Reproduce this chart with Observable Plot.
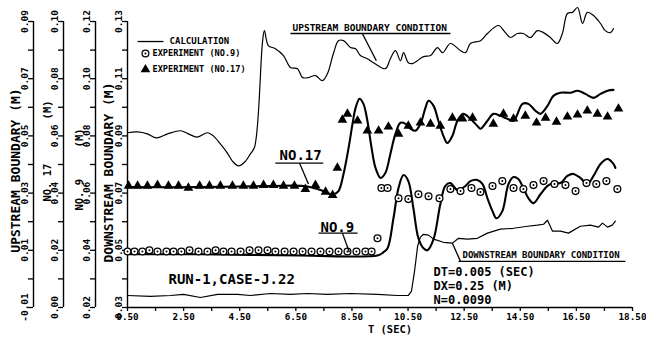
<!DOCTYPE html>
<html><head><meta charset="utf-8">
<script src="https://cdn.jsdelivr.net/npm/d3@7"></script>
<script src="https://cdn.jsdelivr.net/npm/@observablehq/plot@0.6"></script>
<style>
body{margin:0;background:#fff}
svg text{white-space:pre}
</style>
</head><body><div id="chart"></div>
<script>
// ---- data (T in seconds, depth in metres, each series in its own axis units) ----
const upT = [0.50,0.86,1.21,1.53,1.93,2.39,2.67,2.99,3.35,3.56,3.81,4.06,4.24,4.46,4.71,4.88,5.03,5.31,5.38,5.52,5.77,6.06,6.31,6.56,6.74,6.95,7.20,7.45,7.63,7.84,8.02,8.20,8.45,8.63,8.80,9.05,9.27,9.69,9.87,10.05,10.23,10.34,10.51,10.66,11.05,11.30,11.55,11.73,12.01,12.37,12.55,12.72,13.08,13.33,13.72,13.97,14.15,14.40,14.61,14.86,15.11,15.33,15.57,15.82,16.00,16.18,16.36,16.54,16.72,16.89,17.11,17.36,17.53,17.71,17.82];
const upH = [0.0511,0.0514,0.0507,0.0493,0.0507,0.0518,0.0507,0.0496,0.0511,0.0500,0.0472,0.0440,0.0412,0.0395,0.0412,0.0437,0.0461,0.0826,0.0868,0.0816,0.0805,0.0781,0.0739,0.0735,0.0704,0.0704,0.0711,0.0693,0.0718,0.0788,0.0833,0.0833,0.0809,0.0805,0.0781,0.0770,0.0756,0.0735,0.0770,0.0798,0.0763,0.0791,0.0756,0.0753,0.0777,0.0781,0.0809,0.0791,0.0823,0.0798,0.0791,0.0823,0.0833,0.0858,0.0886,0.0861,0.0844,0.0858,0.0858,0.0844,0.0868,0.0861,0.0844,0.0823,0.0858,0.0928,0.0932,0.0949,0.0893,0.0932,0.0921,0.0893,0.0868,0.0861,0.0875];

const downT = [0.50,1.32,2.03,2.50,3.10,3.71,4.42,4.88,5.60,6.31,6.91,7.63,8.45,9.41,10.12,10.51,10.62,10.73,10.84,10.94,11.05,11.23,11.41,11.76,12.08,12.30,12.62,12.97,13.33,13.79,14.26,14.76,15.11,15.33,15.47,15.65,15.93,16.22,16.64,17.00,17.29,17.43,17.61,17.78,17.89];
const downH = [0.0342,0.0339,0.0342,0.0346,0.0335,0.0346,0.0346,0.0342,0.0349,0.0346,0.0349,0.0346,0.0349,0.0346,0.0342,0.0342,0.0356,0.0426,0.0514,0.0546,0.0556,0.0553,0.0539,0.0528,0.0525,0.0542,0.0539,0.0542,0.0560,0.0574,0.0577,0.0584,0.0588,0.0591,0.0605,0.0567,0.0567,0.0560,0.0584,0.0588,0.0581,0.0595,0.0581,0.0588,0.0602];

const calc9T = [0.50,3.10,6.67,9.41,9.62,9.77,9.98,10.16,10.34,10.51,10.69,10.87,11.05,11.19,11.41,11.65,11.83,12.01,12.26,12.55,12.72,12.97,13.15,13.33,13.51,13.65,13.86,14.08,14.26,14.43,14.61,14.79,14.97,15.22,15.47,15.68,15.93,16.18,16.39,16.64,16.89,17.11,17.36,17.61,17.82,17.89];
const calc9H = [0.0386,0.0386,0.0382,0.0382,0.0393,0.0407,0.0512,0.0618,0.0663,0.0642,0.0547,0.0442,0.0407,0.0400,0.0439,0.0561,0.0625,0.0635,0.0611,0.0625,0.0642,0.0646,0.0632,0.0582,0.0537,0.0512,0.0537,0.0632,0.0656,0.0649,0.0618,0.0582,0.0565,0.0596,0.0625,0.0635,0.0635,0.0660,0.0667,0.0653,0.0632,0.0660,0.0702,0.0719,0.0702,0.0688];

const exp9T = [0.50,0.75,1.03,1.28,1.57,1.89,2.14,2.42,2.71,3.03,3.35,3.64,3.92,4.21,4.53,4.85,5.17,5.49,5.77,6.10,6.42,6.74,7.06,7.38,7.70,8.02,8.34,8.66,8.98,9.20,9.41,9.55,9.77,10.16,10.51,10.87,11.23,11.62,12.01,12.37,12.76,13.08,13.51,13.86,14.26,14.61,14.97,15.33,15.72,16.11,16.47,16.86,17.21,17.57,17.96];
const exp9H = [0.0396,0.0396,0.0396,0.0400,0.0396,0.0396,0.0396,0.0396,0.0400,0.0396,0.0396,0.0400,0.0396,0.0396,0.0396,0.0400,0.0400,0.0400,0.0396,0.0396,0.0396,0.0396,0.0396,0.0396,0.0396,0.0396,0.0396,0.0396,0.0396,0.0396,0.0442,0.0618,0.0618,0.0582,0.0579,0.0596,0.0589,0.0582,0.0614,0.0607,0.0618,0.0604,0.0625,0.0642,0.0618,0.0614,0.0628,0.0642,0.0632,0.0628,0.0607,0.0635,0.0632,0.0642,0.0614];

const calc17T = [0.50,3.10,5.60,6.77,7.13,7.38,7.63,7.84,8.02,8.20,8.38,8.52,8.63,8.77,8.91,9.05,9.20,9.34,9.52,9.69,9.87,10.05,10.23,10.41,10.59,10.76,10.94,11.12,11.23,11.41,11.58,11.76,11.90,12.08,12.26,12.47,12.72,12.97,13.08,13.33,13.54,13.79,14.04,14.26,14.58,14.79,15.04,15.22,15.47,15.68,15.93,16.29,16.54,16.82,17.11,17.36,17.61,17.82];
const calc17H = [0.0421,0.0421,0.0425,0.0425,0.0418,0.0411,0.0400,0.0396,0.0407,0.0467,0.0558,0.0642,0.0698,0.0730,0.0712,0.0653,0.0558,0.0488,0.0453,0.0470,0.0537,0.0607,0.0646,0.0642,0.0625,0.0618,0.0642,0.0698,0.0723,0.0705,0.0653,0.0600,0.0575,0.0600,0.0653,0.0677,0.0660,0.0635,0.0625,0.0653,0.0677,0.0670,0.0660,0.0653,0.0712,0.0712,0.0688,0.0677,0.0705,0.0740,0.0751,0.0751,0.0758,0.0747,0.0733,0.0747,0.0758,0.0761];

const exp17T = [0.54,0.86,1.21,1.57,1.96,2.32,2.67,3.07,3.42,3.81,4.24,4.63,4.99,5.35,5.70,6.06,6.45,6.84,7.20,7.56,7.81,7.98,8.16,8.34,8.70,9.05,9.45,9.80,10.16,10.51,10.94,11.30,11.65,12.08,12.44,12.80,13.54,13.90,14.26,14.68,15.08,15.40,15.79,16.18,16.54,16.89,17.25,17.61,18.00];
const exp17H = [0.0425,0.0425,0.0425,0.0428,0.0425,0.0425,0.0418,0.0425,0.0425,0.0425,0.0425,0.0425,0.0425,0.0428,0.0428,0.0425,0.0425,0.0414,0.0428,0.0404,0.0393,0.0488,0.0656,0.0677,0.0653,0.0618,0.0618,0.0632,0.0607,0.0635,0.0646,0.0642,0.0635,0.0663,0.0660,0.0663,0.0642,0.0677,0.0660,0.0670,0.0646,0.0663,0.0649,0.0667,0.0674,0.0688,0.0677,0.0667,0.0695];

// axis definitions: offset that maps each series' units onto the downstream axis
const axes = [
  {name: "UPSTREAM BOUNDARY (M)", off: 0.04, size: 13},
  {name: "NO. 17       (M)", off: 0.03, size: 10.5},
  {name: "NO. 9     (M)", off: 0.01, size: 10.5},
  {name: "DOWNSTREAM BOUNDARY (M)", off: 0.00, size: 13}
];
const xTicks = d3.range(0, 19).map(i => 0.5 + i);
const yTicks = d3.range(3, 14).map(i => i / 100);

// annotations (T, downstream-axis value)
const notes = [
  {t: 6.38, y: 0.1268, text: "UPSTREAM BOUNDARY CONDITION", size: 9.5, anchor: "start", line: "bottom"},
  {t: 6.67, y: 0.0830, text: "NO.17", size: 14, anchor: "middle", line: "middle"},
  {t: 7.98, y: 0.0581, text: "NO.9", size: 14, anchor: "middle", line: "middle"},
  {t: 12.44, y: 0.0474, text: "DOWNSTREAM BOUNDARY CONDITION", size: 9, anchor: "start", line: "bottom"},
  {t: 1.96, y: 0.0398, text: "RUN-1,CASE-J.22", size: 14, anchor: "start", line: "middle"},
  {t: 11.41, y: 0.0424, text: "DT=0.005 (SEC)", size: 12, anchor: "start", line: "middle"},
  {t: 11.41, y: 0.0375, text: "DX=0.25 (M)", size: 12, anchor: "start", line: "middle"},
  {t: 11.41, y: 0.0326, text: "N=0.0090", size: 12, anchor: "start", line: "middle"},
  {t: 2.00, y: 0.1230, text: "CALCULATION", size: 9, anchor: "start", line: "middle"},
  {t: 1.39, y: 0.1188, text: "EXPERIMENT (NO.9)", size: 8.6, anchor: "start", line: "middle"},
  {t: 1.39, y: 0.1132, text: "EXPERIMENT (NO.17)", size: 8.6, anchor: "start", line: "middle"}
];
const leaders = [
  [6.31, 0.1258, 12.01, 0.1258], [8.87, 0.1258, 9.37, 0.1163],
  [5.77, 0.0805, 7.48, 0.0805], [6.63, 0.0805, 6.95, 0.0732],
  [7.31, 0.0560, 8.70, 0.0560], [8.16, 0.0560, 8.41, 0.0493],
  [12.30, 0.0461, 18.25, 0.0461], [12.08, 0.0525, 12.37, 0.0461],
  [0.86, 0.1230, 1.78, 0.1230]
];
const legendDots = [{t: 1.14, y: 0.1188, kind: "circle"}, {t: 1.14, y: 0.1132, kind: "triangle"}];

const rows = (ts, hs, off) => ts.map((t, i) => ({t, y: hs[i] + off}));
const up = rows(upT, upH, 0.04), down = rows(downT, downH, 0);
const c9 = rows(calc9T, calc9H, 0.01), e9 = rows(exp9T, exp9H, 0.01);
const c17 = rows(calc17T, calc17H, 0.03), e17 = rows(exp17T, exp17H, 0.03);

const FONT = "'DejaVu Sans Mono', monospace";
const axisDx = [-94, -64, -32, 0];
const titleDx = [-112, -79.5, -48, -19];
const titleDy = [6, -13.5, 5, 8];

const marks = [];
axes.forEach((a, i) => {
  marks.push(Plot.ruleX([0.5], {dx: axisDx[i], strokeWidth: 1.4}));
  marks.push(Plot.axisY(yTicks, {anchor: "left", dx: axisDx[i], tickSize: 5, tickRotate: -90, tickPadding: 1,
    tickFormat: d => Math.round(d * 100) % 2 === 1 ? (d - a.off).toFixed(2) : "",
    fontSize: 9.5, fontWeight: "bold", label: null, strokeWidth: 1.3}));
  marks.push(Plot.text([a.name], {frameAnchor: "left", dx: titleDx[i], dy: titleDy[i], rotate: -90,
    textAnchor: "middle", fontSize: a.size, fontWeight: "bold"}));
});
const c9Legend = legendDots.filter(d => d.kind === "circle");
const t17Legend = legendDots.filter(d => d.kind === "triangle");
marks.push(
  Plot.ruleY([0.03], {strokeWidth: 1.4}),
  Plot.axisX(xTicks, {anchor: "bottom", tickSize: 4, tickPadding: 2,
    tickFormat: d => Math.round(d - 0.5) % 2 === 0 ? d.toFixed(2) : "",
    fontSize: 9.3, fontWeight: "bold", label: null, strokeWidth: 1.3}),
  Plot.text(["T (SEC)"], {frameAnchor: "bottom", dx: 10, dy: 25, fontSize: 10.5, fontWeight: "bold"}),
  Plot.line(up, {x: "t", y: "y", stroke: "black", strokeWidth: 1.2, curve: "catmull-rom"}),
  Plot.line(down, {x: "t", y: "y", stroke: "black", strokeWidth: 1.2, curve: "linear"}),
  Plot.line(c9, {x: "t", y: "y", stroke: "black", strokeWidth: 2.1, curve: "catmull-rom"}),
  Plot.line(c17, {x: "t", y: "y", stroke: "black", strokeWidth: 2.1, curve: "catmull-rom"}),
  Plot.dot(e9, {x: "t", y: "y", r: 3.4, stroke: "black", strokeWidth: 1.3, fill: "white"}),
  Plot.dot(e9, {x: "t", y: "y", r: 1, fill: "black"}),
  Plot.dot(e17, {x: "t", y: "y", symbol: "triangle", r: 3.6, fill: "black"}),
  Plot.link(leaders, {x1: d => d[0], y1: d => d[1], x2: d => d[2], y2: d => d[3], stroke: "black", strokeWidth: 1.3}),
  Plot.dot(c9Legend, {x: "t", y: "y", r: 3.4, stroke: "black", strokeWidth: 1.3, fill: "white"}),
  Plot.dot(c9Legend, {x: "t", y: "y", r: 1, fill: "black"}),
  Plot.dot(t17Legend, {x: "t", y: "y", symbol: "triangle", r: 3.6, fill: "black"})
);
notes.forEach(n => marks.push(Plot.text([n], {x: "t", y: "y", text: "text", fontSize: n.size, textAnchor: n.anchor,
  lineAnchor: n.line, fontWeight: "bold"})));

const chart = Plot.plot({
  width: 646, height: 341,
  marginLeft: 127, marginRight: 14, marginTop: 21, marginBottom: 34,
  x: {domain: [0.5, 18.5]},
  y: {domain: [0.03, 0.13]},
  style: {fontFamily: FONT, background: "white", color: "black", overflow: "visible"},
  marks
});
document.getElementById("chart").appendChild(chart);
</script>
</body></html>
